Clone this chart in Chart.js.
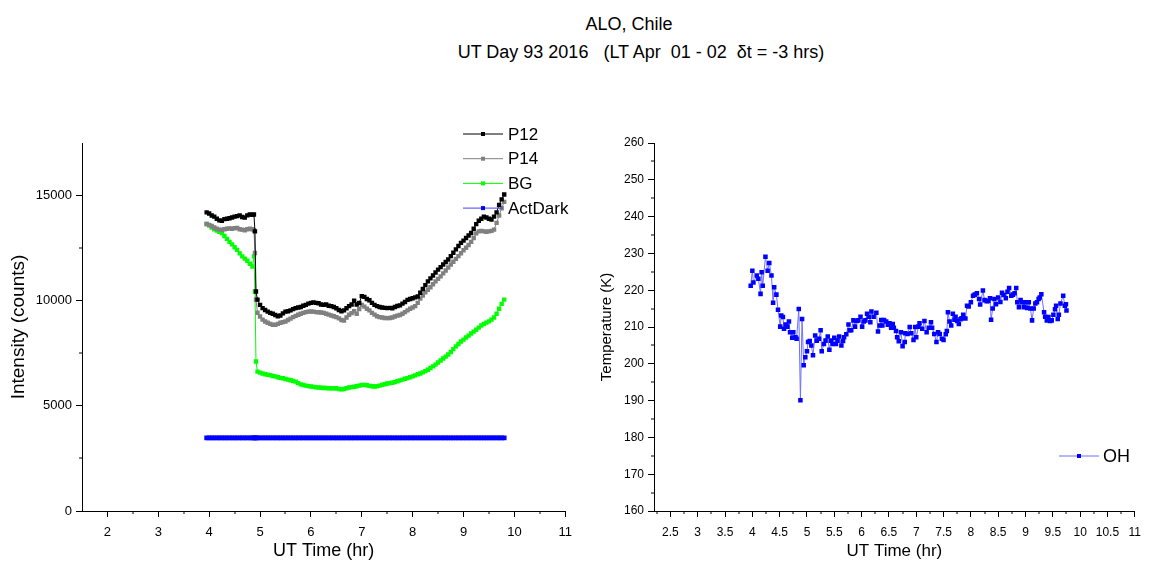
<!DOCTYPE html>
<html><head><meta charset="utf-8">
<script src="https://cdn.jsdelivr.net/npm/chart.js@4.4.1/dist/chart.umd.min.js"></script>
<style>
html,body{margin:0;padding:0;background:#fff;width:1149px;height:562px;overflow:hidden;}
#c1{position:absolute;left:0;top:0;}
#c2{position:absolute;left:580px;top:0;}
.t{position:absolute;font-family:"Liberation Sans",Arial,sans-serif;font-size:18px;line-height:20px;white-space:pre;transform:translateX(-50%);color:#000;}
</style></head><body>
<div class="t" style="left:629px;top:14px">ALO, Chile</div>
<div class="t" style="left:641px;top:42px">UT Day 93 2016   (LT Apr  01 - 02  δt = -3 hrs)</div>
<canvas id="c1" width="580" height="562"></canvas>
<canvas id="c2" width="569" height="562"></canvas>
<script>
// ---------- data ----------
const leftTime = [3.95,4.00,4.05,4.10,4.15,4.20,4.25,4.30,4.35,4.40,
4.45,4.50,4.55,4.60,4.65,4.70,4.75,4.80,4.85,4.88,
4.90,4.92,4.95,5.00,5.05,5.10,5.15,5.20,5.25,5.30,
5.35,5.40,5.45,5.50,5.55,5.60,5.65,5.70,5.75,5.80,
5.85,5.90,5.95,6.00,6.05,6.10,6.15,6.20,6.25,6.30,
6.35,6.40,6.45,6.50,6.55,6.60,6.65,6.70,6.75,6.80,
6.85,6.90,6.95,7.00,7.05,7.10,7.15,7.20,7.25,7.30,
7.35,7.40,7.45,7.50,7.55,7.60,7.65,7.70,7.75,7.80,
7.85,7.90,7.95,8.00,8.05,8.10,8.15,8.20,8.25,8.30,
8.35,8.40,8.45,8.50,8.55,8.60,8.65,8.70,8.75,8.80,
8.85,8.90,8.95,9.00,9.05,9.10,9.15,9.20,9.25,9.30,
9.35,9.40,9.45,9.50,9.55,9.60,9.65,9.70,9.75,9.80];

const p12 = [14200,14150,14050,14000,13900,13820,13800,13880,13900,13920,
13960,14000,14020,14060,13980,13950,14060,14100,14080,14100,
13300,10440,10050,9800,9650,9560,9480,9420,9380,9320,
9260,9300,9400,9480,9500,9540,9600,9650,9680,9700,
9760,9800,9860,9900,9920,9900,9880,9820,9800,9820,
9760,9740,9700,9640,9560,9500,9540,9640,9740,9820,
10000,9820,9900,10220,10180,10080,10020,9900,9800,9740,
9700,9680,9660,9650,9660,9640,9700,9750,9780,9860,
9940,10040,10080,10120,10160,10200,10380,10560,10740,10920,
11060,11200,11340,11480,11600,11720,11840,11960,12120,12280,
12440,12600,12750,12860,12980,13100,13220,13420,13640,13800,
13900,14000,13960,13900,13860,14000,14200,14560,14820,15050];

const p14 = [13650,13600,13550,13480,13420,13380,13360,13400,13420,13440,
13420,13450,13460,13400,13380,13350,13400,13420,13400,13350,
12270,10050,9430,9250,9100,9010,8950,8900,8860,8850,
8900,8950,8980,9010,9080,9150,9220,9280,9330,9380,
9420,9460,9480,9490,9480,9460,9450,9440,9420,9380,
9340,9300,9260,9220,9160,9080,9060,9200,9330,9410,
9500,9380,9600,9800,9720,9620,9540,9420,9340,9260,
9220,9200,9180,9170,9180,9200,9250,9290,9320,9380,
9460,9540,9620,9680,9740,9900,10100,10250,10400,10520,
10640,10780,10920,11040,11160,11300,11440,11580,11720,11850,
11990,12120,12260,12400,12520,12650,12800,12980,13200,13300,
13320,13300,13280,13300,13320,13380,13700,14050,14400,14700];

const bg = [13650,13580,13480,13400,13340,13280,13220,13080,12940,12800,
12680,12540,12420,12250,12110,12000,11900,11760,11630,12110,
10440,7110,6630,6580,6540,6500,6480,6460,6420,6400,
6360,6330,6310,6280,6250,6220,6180,6150,6080,6020,
5990,5960,5940,5920,5900,5880,5870,5860,5850,5850,
5840,5840,5830,5840,5800,5790,5800,5840,5870,5890,
5910,5930,5960,5990,6000,5980,5950,5930,5920,5930,
5960,6000,6030,6060,6080,6100,6130,6170,6210,6250,
6290,6320,6360,6400,6450,6500,6540,6590,6650,6720,
6800,6880,6960,7060,7160,7250,7340,7440,7560,7700,
7830,7940,8060,8150,8250,8340,8440,8530,8620,8720,
8820,8900,8960,9020,9100,9200,9380,9620,9850,10050];

const actDark = [3480,3480,3480,3480,3480,3480,3480,3480,3480,3480,
3480,3480,3480,3480,3480,3480,3480,3480,3480,3480,
3480,3480,3480,3480,3480,3480,3480,3480,3480,3480,
3480,3480,3480,3480,3480,3480,3480,3480,3480,3480,
3480,3480,3480,3480,3480,3480,3480,3480,3480,3480,
3480,3480,3480,3480,3480,3480,3480,3480,3480,3480,
3480,3480,3480,3480,3480,3480,3480,3480,3480,3480,
3480,3480,3480,3480,3480,3480,3480,3480,3480,3480,
3480,3480,3480,3480,3480,3480,3480,3480,3480,3480,
3480,3480,3480,3480,3480,3480,3480,3480,3480,3480,
3480,3480,3480,3480,3480,3480,3480,3480,3480,3480,
3480,3480,3480,3480,3480,3480,3480,3480,3480,3480];

const ohTime = [3.97,4.00,4.02,4.08,4.11,4.15,4.17,4.19,4.24,4.28,4.31,4.35,4.38,4.40,4.44,4.47,4.51,4.53,4.56,4.58,4.61,4.64,4.67,4.69,4.73,4.75,4.79,4.81,4.85,
4.88,4.91,4.94,4.97,5.00,5.02,5.05,5.08,5.11,5.15,5.18,5.22,5.25,5.27,5.31,5.34,5.38,5.41,5.44,5.47,5.50,
5.53,5.56,5.59,5.63,5.66,5.68,5.72,5.76,5.78,5.81,5.85,5.88,5.91,5.94,5.98,6.01,6.04,6.07,6.10,6.13,6.16,6.18,6.22,6.27,
6.30,6.33,6.36,6.38,6.41,6.45,6.48,6.51,6.54,6.57,6.59,6.63,6.65,6.68,6.72,6.75,6.79,6.80,6.84,6.88,6.91,6.95,6.98,7.00,
7.04,7.06,7.11,7.15,7.19,7.23,7.27,7.29,7.33,7.37,7.40,7.43,7.47,7.50,7.54,7.56,
7.58,7.61,7.64,7.67,7.70,7.72,7.75,7.78,7.81,7.83,7.86,7.90,7.93,7.96,8.00,8.04,8.07,8.11,8.15,8.17,8.22,8.25,8.29,8.32,8.35,
8.37,8.40,8.43,8.46,8.50,8.54,8.57,8.60,8.64,8.67,8.70,8.74,8.77,8.80,8.83,8.85,8.88,8.91,8.94,8.97,9.00,9.03,9.06,9.09,
9.12,9.15,9.18,9.21,9.24,9.26,9.29,9.34,9.36,9.39,9.42,9.45,9.48,9.51,9.54,9.56,9.59,9.61,9.64,9.69,9.72,9.74,9.75];

const ohTemp = [221.2,225.3,222.1,224.0,223.1,219.0,224.9,221.2,229.1,225.3,227.4,224.0,216.6,220.8,218.8,214.7,210.1,213.1,212.7,209.5,210.7,210.1,211.5,208.6,207.1,208.6,207.2,206.8,214.9,
190.1,212.2,199.6,201.8,203.4,205.9,206.2,205.0,202.3,207.7,206.3,206.8,209.1,203.4,205.4,206.3,207.4,203.8,206.3,205.4,207.1,
205.4,206.3,207.4,205.0,206.2,207.2,208.0,210.7,209.1,209.1,211.8,210.1,211.6,211.8,212.8,210.1,211.5,211.8,213.6,212.8,211.3,214.2,212.8,213.9,
208.8,210.4,211.9,210.4,211.9,211.5,210.6,211.0,209.8,210.8,209.8,208.9,207.2,206.1,208.6,204.8,205.9,208.3,208.1,210.0,208.3,206.5,210.0,207.2,
210.1,211.0,209.5,211.6,208.6,209.8,211.3,209.8,208.1,205.9,208.6,208.1,206.8,206.5,208.0,208.9,
214.0,211.5,210.4,213.6,212.0,212.8,211.6,210.8,212.1,212.4,213.3,212.3,215.8,215.6,216.7,218.5,218.8,219.2,217.6,216.1,219.9,217.3,217.0,217.1,217.8,
212.0,215.0,217.6,216.2,218.0,216.8,219.3,218.7,217.8,219.6,220.6,218.5,218.8,219.2,220.6,216.7,215.4,217.3,216.7,215.4,216.7,215.2,216.7,215.0,
211.8,215.0,216.4,216.7,217.6,218.0,218.9,214.0,212.8,211.8,212.7,211.6,211.8,213.3,214.8,215.8,212.2,213.3,216.4,218.5,215.8,216.2,214.5];

const leftXTicks = [2,3,4,5,6,7,8,9,10,11];
const leftXMinor = [2.5,3.5,4.5,5.5,6.5,7.5,8.5,9.5,10.5];
const leftYTicks = [0,5000,10000,15000];
const leftYMinor = [2500,7500,12500];
const rightXTicks = [2.5,3,3.5,4,4.5,5,5.5,6,6.5,7,7.5,8,8.5,9,9.5,10,10.5,11];
const rightXMinor = [2.25,2.75,3.25,3.75,4.25,4.75,5.25,5.75,6.25,6.75,7.25,7.75,8.25,8.75,9.25,9.75,10.25,10.75];
const rightYTicks = [160,170,180,190,200,210,220,230,240,250,260];
const rightYMinor = [165,175,185,195,205,215,225,235,245,255];

// ---------- helpers ----------
const FONT = '"Liberation Sans", Arial, sans-serif';
Chart.defaults.font.family = FONT;
Chart.defaults.color = '#000';

function pairs(xs, ys){ return xs.map((x,i)=>({x:x, y:ys[i]})); }
function setTicks(values){ return function(scale){ scale.ticks = values.map(v=>({value:v})); }; }

const minorTicks = {
  id:'minorTicks',
  afterDraw(chart, args, opts){
    const ctx = chart.ctx, xs = chart.scales.x, ys = chart.scales.y, b = chart.chartArea;
    ctx.save(); ctx.strokeStyle = '#000'; ctx.lineWidth = 1; ctx.beginPath();
    opts.x.forEach(v=>{ const p = Math.round(xs.getPixelForValue(v)); ctx.moveTo(p, b.bottom); ctx.lineTo(p, b.bottom + opts.len); });
    opts.y.forEach(v=>{ const p = Math.round(ys.getPixelForValue(v)); ctx.moveTo(b.left, p); ctx.lineTo(b.left - opts.len, p); });
    ctx.stroke(); ctx.restore();
  }
};

const boxLegend = {
  id:'boxLegend',
  afterDraw(chart, args, opts){
    const ctx = chart.ctx;
    ctx.save();
    chart.data.datasets.forEach((ds,i)=>{
      const y = opts.y + i*opts.dy;
      ctx.strokeStyle = ds.borderColor; ctx.lineWidth = 1;
      ctx.beginPath(); ctx.moveTo(opts.x, y); ctx.lineTo(opts.x + opts.w, y); ctx.stroke();
      ctx.fillStyle = ds.pointBackgroundColor;
      ctx.fillRect(opts.x + opts.w/2 - 2, y - 2, 4, 4);
      ctx.fillStyle = '#000'; ctx.font = opts.font; ctx.textBaseline = 'middle'; ctx.textAlign = 'left';
      ctx.fillText(ds.label, opts.x + opts.w + opts.gap, y + 1);
    });
    ctx.restore();
  }
};

function ds(label, data, line, pt, r){
  return {label, data, borderColor: line, borderWidth: 1, pointStyle: 'rect', pointRadius: r,
    pointBackgroundColor: pt, pointBorderWidth: 0, pointHoverRadius: r, tension: 0, fill: false, showLine: true};
}

function axisCommon(tickFont, pad, tl){
  return {
    grid: {display: true, drawOnChartArea: false, drawTicks: true, tickLength: tl, color: '#000', tickColor: '#000', tickWidth: 1},
    border: {display: true, color: '#000', width: 1},
    ticks: {font: {size: tickFont}, padding: pad, autoSkip: false, maxRotation: 0, minRotation: 0, color: '#000', callback: v => String(v)}
  };
}

// ---------- left chart ----------
const lx = axisCommon(13, 8, 6), ly = axisCommon(13, 4, 6);
new Chart(document.getElementById('c1'), {
  type: 'line',
  data: {datasets: [
    ds('P12', pairs(leftTime, p12), '#000000', '#000000', 3.1),
    ds('P14', pairs(leftTime, p14), '#808080', '#808080', 3.1),
    ds('BG', pairs(leftTime, bg), '#00ff00', '#00ff00', 3.1),
    ds('ActDark', pairs(leftTime, actDark), '#4040ff', '#0000ff', 3.3)
  ]},
  options: {
    responsive: false, animation: false, devicePixelRatio: 1,
    layout: {padding: {top: 143, right: 12, left: 0, bottom: 0}},
    plugins: {legend: {display: false}, tooltip: {enabled: false},
      minorTicks: {x: leftXMinor, y: leftYMinor, len: 3},
      boxLegend: {x: 463, y: 134, dy: 24.7, w: 40, gap: 5, font: '17px ' + FONT}},
    scales: {
      x: Object.assign(lx, {type: 'linear', min: 1.5, max: 11, afterBuildTicks: setTicks(leftXTicks),
        afterFit(s){ s.height = 51; },
        title: {display: true, text: 'UT Time (hr)', font: {size: 18}, padding: {top: 0, bottom: 0}, color: '#000'}}),
      y: Object.assign(ly, {type: 'linear', min: 0, max: 17500, afterBuildTicks: setTicks(leftYTicks),
        afterFit(s){ s.width = 82; },
        title: {display: true, text: 'Intensity (counts)', font: {size: 19}, padding: {top: 7, bottom: 0}, color: '#000'}})
    }
  },
  plugins: [minorTicks, boxLegend]
});

// ---------- right chart ----------
const rx = axisCommon(12, 8, 6), ry = axisCommon(12, 4, 6);
new Chart(document.getElementById('c2'), {
  type: 'line',
  data: {datasets: [
    ds('OH', pairs(ohTime, ohTemp), '#6f6fff', '#0000ff', 3.2)
  ]},
  options: {
    responsive: false, animation: false, devicePixelRatio: 1,
    layout: {padding: {top: 143, right: 9, left: 0, bottom: 0}},
    plugins: {legend: {display: false}, tooltip: {enabled: false},
      minorTicks: {x: rightXMinor, y: rightYMinor, len: 3},
      boxLegend: {x: 479, y: 456, dy: 25, w: 40, gap: 4, font: '18px ' + FONT}},
    scales: {
      x: Object.assign(rx, {type: 'linear', min: 2.2, max: 11, afterBuildTicks: setTicks(rightXTicks),
        afterFit(s){ s.height = 51; },
        title: {display: true, text: 'UT Time (hr)', font: {size: 17}, padding: {top: 0, bottom: 0}, color: '#000'}}),
      y: Object.assign(ry, {type: 'linear', min: 160, max: 260, afterBuildTicks: setTicks(rightYTicks),
        afterFit(s){ s.width = 74; },
        title: {display: true, text: 'Temperature (K)', font: {size: 15}, padding: {top: 18, bottom: 0}, color: '#000'}})
    }
  },
  plugins: [minorTicks, boxLegend]
});
</script>
</body></html>
